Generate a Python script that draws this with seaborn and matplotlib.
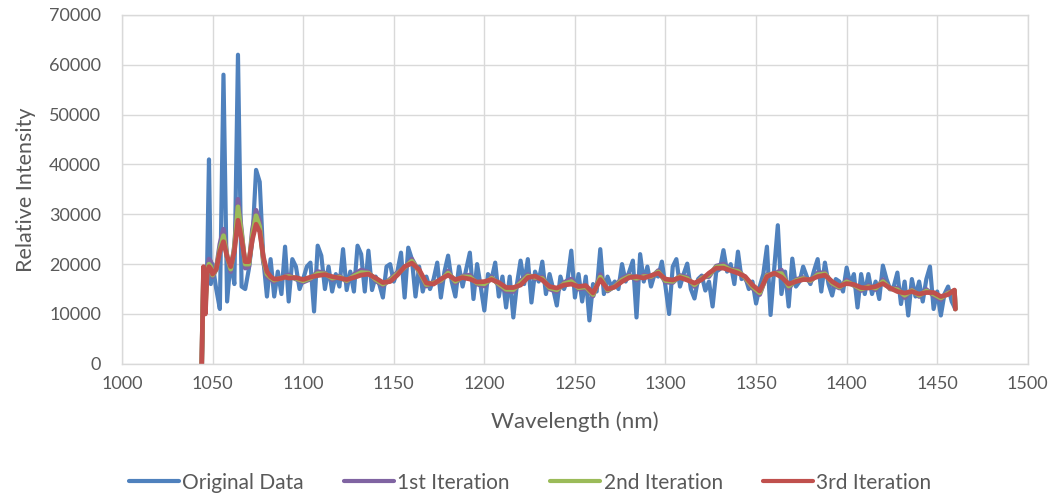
import numpy as np
import pandas as pd
import matplotlib
matplotlib.use("Agg")
import matplotlib.pyplot as plt
import seaborn as sns

# wavelength grids (nm)
wl_orig = np.concatenate([np.arange(1044, 1050), np.arange(1050, 1461, 2)])
wl_smooth = np.concatenate([np.arange(1044, 1050), np.arange(1050, 1092, 2),
                            np.arange(1092, 1457, 4), [1459.5, 1460]])

original = [
    0, 18000, 13000, 20000, 41000, 16000,
    20000, 15000, 11000, 58000, 12500,
    21000, 16000, 62000, 15500, 15000,
    19000, 25000, 38900, 36500, 21000,
    13500, 21000, 13500, 18500, 14000,
    23500, 12500, 21000, 19500, 15000,
    17000, 19500, 20300, 10500, 23700,
    21700, 15000, 19500, 14500, 18000,
    15500, 23000, 14800, 18500, 14500,
    23700, 22000, 14500, 22700, 14800,
    17500, 16000, 13300, 19500, 20000,
    16500, 18500, 22300, 13300, 23300,
    21000, 13500, 19500, 14500, 17500,
    15000, 17000, 20300, 13300, 18500,
    21700, 16500, 13500, 19500, 15500,
    19000, 22300, 13000, 20000, 15500,
    10700, 18000, 17000, 20300, 13500,
    17500, 11300, 17500, 9300, 16000,
    20700, 16000, 21000, 12300, 18500,
    16500, 20500, 14000, 18000, 15000,
    11700, 17500, 15000, 17000, 22700,
    13300, 18000, 12500, 17500, 8700,
    16000, 14500, 23000, 14000, 17500,
    15500, 16500, 15000, 20000, 16500,
    18500, 20700, 9300, 22000, 16500,
    19500, 15500, 18000, 17500, 20500,
    15500, 10000, 19500, 21000, 15500,
    18000, 20100, 15000, 13100, 17000,
    17700, 14700, 16500, 11500, 18500,
    19000, 22800, 18500, 20000, 16000,
    22500, 17000, 17500, 15000, 16500,
    12100, 15500, 18000, 23500, 9800,
    19000, 27800, 14000, 18500, 11500,
    21100, 15500, 16500, 19500, 17500,
    16000, 18700, 21000, 14500, 20300,
    16000, 13700, 17000, 16500, 14500,
    19300, 16000, 18000, 11300, 18000,
    14000, 18000, 14000, 16500, 13000,
    19700, 17000, 15000, 15500, 18300,
    12000, 16500, 9700, 17000, 13500,
    16500, 12500, 17000, 19500, 11000,
    14500, 9700, 14000, 15500, 12500,
    11000,
]

iter1 = [
    0, 18500, 13000, 19000, 21000, 20500,
    17500, 19000, 24000, 27000, 21500, 18500, 23500, 33000, 26500, 19200,
    19500, 27000, 30800, 28500, 20500, 17500, 17000, 16500, 17200, 17000, 17600,
    17800, 17000, 16400, 17000, 18500, 18200, 16900, 17600, 16500, 17900,
    18800, 18400, 16700, 15700, 17000, 18300, 19200, 21000, 18400, 15600,
    16400, 16500, 18600, 16200, 17600, 17800, 16000, 15600, 17400, 15800,
    14600, 14500, 16600, 17900, 17100, 17400, 15000, 14500, 16300, 17000,
    15000, 15200, 13600, 17900, 14600, 15600, 17100, 17800, 16800, 17800,
    17300, 18700, 16400, 16300, 17700, 17400, 15500, 17400, 17500, 19600,
    20000, 18900, 18900, 17100, 15200, 13900, 17900, 18000, 18800, 15200,
    16900, 17300, 16500, 18200, 18300, 15900, 15200, 16800, 15700, 14700,
    15700, 14900, 16900, 15000, 15200, 13300, 14900, 13500, 14900, 13700,
    12900, 14400,
    14600, 11000,
]

iter2 = [
    0, 19000, 11500, 18500, 20000, 19500,
    17800, 19000, 23000, 25700, 21500, 19000, 23000, 31500, 26000, 20000,
    20000, 26000, 29700, 27500, 21000, 18000, 17300, 16800, 17000, 17200, 17400,
    17500, 17150, 16650, 17200, 18100, 18050, 17200, 17400, 16700, 17600,
    18300, 18200, 16950, 16000, 16750, 18050, 19350, 20600, 18650, 15900,
    16200, 16750, 18200, 16550, 17450, 17400, 16200, 16050, 17150, 16050,
    14950, 14900, 16200, 17600, 17350, 17100, 15250, 14850, 16050, 16500,
    15250, 15450, 13900, 17400, 14800, 15500, 16800, 17550, 17150, 17500,
    17500, 18450, 16700, 16550, 17500, 17100, 15850, 17150, 17850, 19400,
    19600, 18800, 18550, 17300, 15500, 14250, 17700, 18100, 18100, 15600,
    16700, 17100, 16700, 17850, 18050, 16200, 15400, 16450, 15800, 15000,
    15450, 15200, 16500, 15100, 14850, 13750, 14700, 13750, 14600, 14000,
    13200, 14150,
    14700, 11000,
]

iter3 = [
    0, 19500, 10000, 18500, 19500, 19000,
    18000, 19000, 22500, 24500, 21500, 19500, 22500, 28800, 25000, 20500,
    20500, 25000, 28000, 26500, 21500, 18500, 17500, 17000, 17000, 17200, 17400,
    17200, 17300, 16900, 17400, 17700, 17900, 17500, 17200, 16900, 17300,
    17800, 18000, 17200, 16300, 16500, 17800, 19500, 20200, 18900, 16200,
    16000, 17000, 17800, 16900, 17300, 17000, 16400, 16500, 16900, 16300,
    15300, 15300, 15800, 17300, 17600, 16800, 15500, 15200, 15800, 16000,
    15500, 15700, 14200, 16900, 15000, 15400, 16500, 17300, 17500, 17200,
    17700, 18200, 17000, 16800, 17300, 16800, 16200, 16900, 18200, 19200,
    19200, 18700, 18200, 17500, 15800, 14600, 17500, 18200, 17400, 16000,
    16500, 16900, 16900, 17500, 17800, 16500, 15600, 16100, 15900, 15300,
    15200, 15500, 16100, 15200, 14500, 14200, 14500, 14000, 14300, 14300,
    13500, 13900,
    14800, 11000,
]

series_names = ["Original Data", "1st Iteration", "2nd Iteration", "3rd Iteration"]
colors = ["#4F81BD", "#8064A2", "#9BBB59", "#C0504D"]

df = pd.concat([
    pd.DataFrame({"Wavelength": wl_orig, "Intensity": original, "Series": series_names[0]}),
    pd.DataFrame({"Wavelength": wl_smooth, "Intensity": iter1, "Series": series_names[1]}),
    pd.DataFrame({"Wavelength": wl_smooth, "Intensity": iter2, "Series": series_names[2]}),
    pd.DataFrame({"Wavelength": wl_smooth, "Intensity": iter3, "Series": series_names[3]}),
], ignore_index=True)

sns.set_style("white")
plt.rcParams["font.family"] = ["Lato", "DejaVu Sans"]

fig = plt.figure(figsize=(10.52, 4.95), dpi=100)
ax = fig.add_axes([0.116, 0.265, 0.861, 0.705])

sns.lineplot(data=df, x="Wavelength", y="Intensity", hue="Series",
             hue_order=series_names, palette=colors, estimator=None,
             linewidth=3.0, ax=ax, legend=True)
# smoothed curves a bit heavier than the raw trace
for line in ax.lines[1:4]:
    line.set_linewidth(3.4)

ax.set_xlim(1000, 1500)
ax.set_ylim(0, 70000)
ax.set_xticks(np.arange(1000, 1501, 50))
ax.set_yticks(np.arange(0, 70001, 10000))
ax.grid(True, color="#D9D9D9", linewidth=1)
ax.set_axisbelow(True)
for s in ax.spines.values():
    s.set_color("#D9D9D9")
    s.set_linewidth(1)
ax.tick_params(axis="both", length=0, labelsize=13, colors="#595959")
ax.tick_params(axis="y", pad=15)
ax.tick_params(axis="x", pad=9)

ax.set_xlabel("Wavelength (nm)", fontsize=16, color="#595959")
ax.set_ylabel("Relative Intensity", fontsize=15.5, color="#595959")
ax.xaxis.set_label_coords(0.5, -0.135)
ax.yaxis.set_label_coords(-0.095, 0.5)

handles, labels = ax.get_legend_handles_labels()
for h in handles:
    h.set_linewidth(3.0)
ax.legend(handles, labels, loc="center", bbox_to_anchor=(0.504, 0.025),
          bbox_transform=fig.transFigure, ncol=4, frameon=False,
          fontsize=15, handlelength=2.4, handletextpad=0.15, columnspacing=1.95,
          labelcolor="#595959")

fig.savefig("out.png", dpi=100, facecolor="white")
